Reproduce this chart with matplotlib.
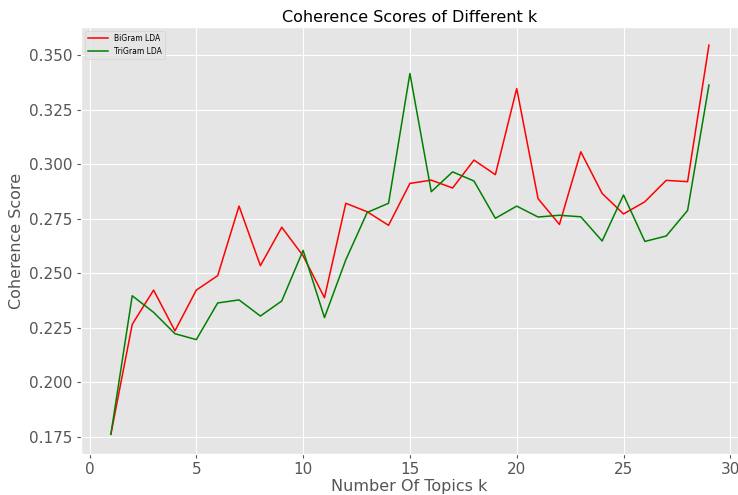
import numpy as np
import matplotlib
matplotlib.use('Agg')
import matplotlib.pyplot as plt

plt.style.use('ggplot')

k = np.arange(1, 30)
bigram = [0.1762, 0.2266, 0.2423, 0.2236, 0.2423, 0.2489, 0.2808, 0.2535, 0.2711, 0.2580,
          0.2388, 0.2821, 0.2782, 0.2720, 0.2912, 0.2927, 0.2891, 0.3019, 0.2952, 0.3347,
          0.2842, 0.2724, 0.3057, 0.2866, 0.2772, 0.2828, 0.2926, 0.2920, 0.3546]
trigram = [0.1762, 0.2397, 0.2321, 0.2223, 0.2196, 0.2364, 0.2378, 0.2304, 0.2373, 0.2605,
           0.2297, 0.2562, 0.2779, 0.2821, 0.3416, 0.2874, 0.2965, 0.2923, 0.2752, 0.2808,
           0.2758, 0.2766, 0.2759, 0.2648, 0.2859, 0.2646, 0.2671, 0.2788, 0.3363]

fig = plt.figure(figsize=(7.38, 4.95), dpi=100)
ax = fig.add_axes([0.110, 0.083, 0.890, 0.862])
ax.plot(k, bigram, color='red', linewidth=1.1, label='BiGram LDA')
ax.plot(k, trigram, color='green', linewidth=1.1, label='TriGram LDA')

ax.set_xlim(-0.39, 30.36)
ax.set_ylim(0.1672, 0.3628)
ax.set_yticks(np.arange(0.175, 0.351, 0.025))
ax.yaxis.set_major_formatter(matplotlib.ticker.FormatStrFormatter('%.3f'))
ax.tick_params(labelsize=11, length=3, pad=3)
ax.set_xlabel('Number Of Topics k', fontsize=11.5, labelpad=1)
ax.set_ylabel('Coherence Score', fontsize=11.5, labelpad=4)
ax.set_title('Coherence Scores of Different k', fontsize=11.5, color='black', pad=4)
ax.legend(loc='upper left', fontsize=5.5, handlelength=2.6)

fig.savefig('out.png', dpi=100)
